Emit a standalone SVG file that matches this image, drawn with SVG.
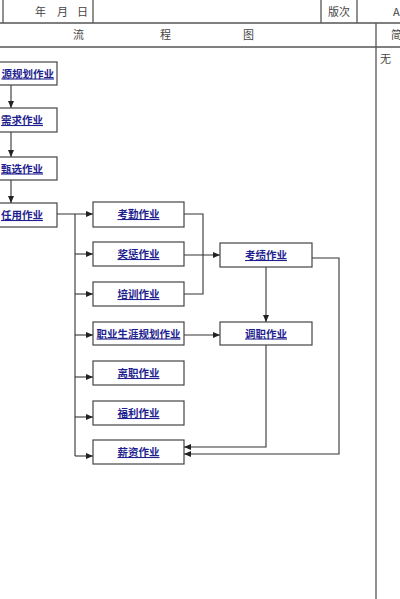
<svg xmlns="http://www.w3.org/2000/svg" width="400" height="599" viewBox="0 0 400 599">
<style>
.tbl{stroke:#555;stroke-width:1.3;fill:none}
.hd{font-family:"Noto Sans CJK SC","Noto Sans",sans-serif;font-size:11px;fill:#444}
.box{fill:#fff;stroke:#444;stroke-width:1.2}
.lbl{font-family:"Noto Sans CJK SC","Noto Sans",sans-serif;font-size:10.5px;font-weight:bold;fill:#1f1f8f;text-decoration:underline;text-anchor:middle}
.lblE{text-anchor:end}
.cn{stroke:#333;stroke-width:1.1;fill:none}
</style>
<defs>
<marker id="ah" markerWidth="7" markerHeight="6" refX="7" refY="3" orient="auto" markerUnits="userSpaceOnUse">
<path d="M0,0 L7,3 L0,6 Z" fill="#222"/>
</marker>
</defs>
<rect width="400" height="599" fill="#fff"/>
<g id="table">
<line class="tbl" x1="0" y1="23" x2="400" y2="23"/>
<line class="tbl" x1="0" y1="47" x2="400" y2="47"/>
<line class="tbl" x1="3" y1="0" x2="3" y2="23"/>
<line class="tbl" x1="93" y1="0" x2="93" y2="23"/>
<line class="tbl" x1="321" y1="0" x2="321" y2="23"/>
<line class="tbl" x1="357" y1="0" x2="357" y2="23"/>
<line class="tbl" x1="376" y1="23" x2="376" y2="599"/>
<text class="hd" x="35" y="16">年</text>
<text class="hd" x="57" y="16">月</text>
<text class="hd" x="77" y="16">日</text>
<text class="hd" x="328" y="16">版次</text>
<text class="hd" x="393" y="16">A</text>
<text class="hd" x="73" y="39">流</text>
<text class="hd" x="160" y="39">程</text>
<text class="hd" x="243" y="39">图</text>
<text class="hd" x="391" y="39">简</text>
<text class="hd" x="380" y="63">无</text>
</g>
<g id="connectors">
<line class="cn" x1="11" y1="85" x2="11" y2="108" marker-end="url(#ah)"/>
<line class="cn" x1="11" y1="132" x2="11" y2="157" marker-end="url(#ah)"/>
<line class="cn" x1="11" y1="180" x2="11" y2="203" marker-end="url(#ah)"/>
<line class="cn" x1="57" y1="214" x2="93" y2="214" marker-end="url(#ah)"/>
<line class="cn" x1="75" y1="214" x2="75" y2="456"/>
<line class="cn" x1="75" y1="254" x2="93" y2="254" marker-end="url(#ah)"/>
<line class="cn" x1="75" y1="294" x2="93" y2="294" marker-end="url(#ah)"/>
<line class="cn" x1="75" y1="335" x2="93" y2="335" marker-end="url(#ah)"/>
<line class="cn" x1="75" y1="377" x2="93" y2="377" marker-end="url(#ah)"/>
<line class="cn" x1="75" y1="417" x2="93" y2="417" marker-end="url(#ah)"/>
<line class="cn" x1="75" y1="456" x2="93" y2="456" marker-end="url(#ah)"/>
<polyline class="cn" points="184,214 203,214 203,294 184,294"/>
<line class="cn" x1="184" y1="255" x2="220" y2="255" marker-end="url(#ah)"/>
<line class="cn" x1="266" y1="267" x2="266" y2="322" marker-end="url(#ah)"/>
<line class="cn" x1="184" y1="335" x2="220" y2="335" marker-end="url(#ah)"/>
<polyline class="cn" points="266,345 266,447 184,447" marker-end="url(#ah)"/>
<polyline class="cn" points="312,258 339,258 339,454 184,454" marker-end="url(#ah)"/>
</g>
<g id="n1"><rect class="box" x="-40" y="62" width="97" height="23"/><text class="lbl lblE" x="54" y="77.5">源规划作业</text></g>
<g id="n2"><rect class="box" x="-40" y="108" width="97" height="24"/><text class="lbl lblE" x="43" y="124">需求作业</text></g>
<g id="n3"><rect class="box" x="-40" y="157" width="97" height="23"/><text class="lbl lblE" x="43" y="172.5">甄选作业</text></g>
<g id="n4"><rect class="box" x="-40" y="203" width="97" height="24"/><text class="lbl lblE" x="43" y="219">任用作业</text></g>
<g id="n5"><rect class="box" x="93" y="202" width="91" height="25"/><text class="lbl" x="138.5" y="218">考勤作业</text></g>
<g id="n6"><rect class="box" x="93" y="242" width="91" height="24"/><text class="lbl" x="138.5" y="258">奖惩作业</text></g>
<g id="n7"><rect class="box" x="93" y="282" width="91" height="24"/><text class="lbl" x="138.5" y="298">培训作业</text></g>
<g id="n8"><rect class="box" x="93" y="322" width="91" height="23"/><text class="lbl" x="138.5" y="337.5">职业生涯规划作业</text></g>
<g id="n9"><rect class="box" x="93" y="361" width="91" height="24"/><text class="lbl" x="138.5" y="377">离职作业</text></g>
<g id="n10"><rect class="box" x="93" y="401" width="91" height="24"/><text class="lbl" x="138.5" y="417">福利作业</text></g>
<g id="n11"><rect class="box" x="93" y="440" width="91" height="24"/><text class="lbl" x="138.5" y="456">薪资作业</text></g>
<g id="n12"><rect class="box" x="220" y="243" width="92" height="24"/><text class="lbl" x="266" y="259">考绩作业</text></g>
<g id="n13"><rect class="box" x="220" y="322" width="92" height="23"/><text class="lbl" x="266" y="337.5">调职作业</text></g>
</svg>
